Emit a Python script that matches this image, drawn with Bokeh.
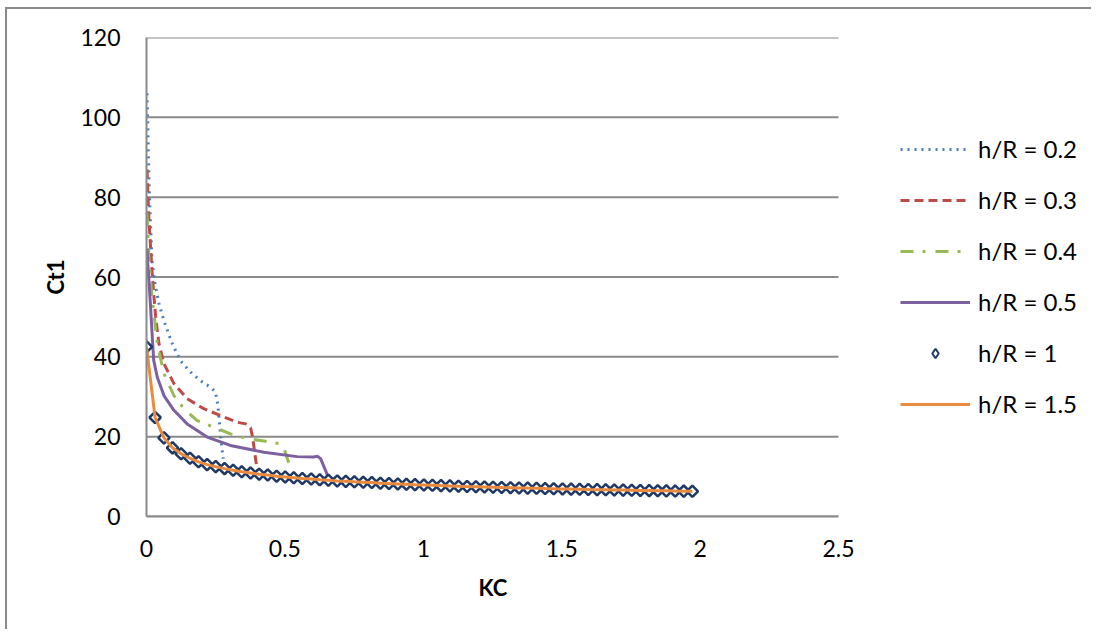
import math
from bokeh.plotting import figure
from bokeh.models import (Range1d, FixedTicker, NumeralTickFormatter, Legend, LegendItem, Title)
from bokeh.embed import file_html
from bokeh.resources import INLINE

# ---- data ----
h02_x = [0.002, 0.004, 0.007, 0.010, 0.014, 0.020, 0.027, 0.033, 0.045, 0.063, 0.093, 0.123,
         0.159, 0.195, 0.231, 0.249, 0.258, 0.264, 0.270, 0.277]
h02_y = [106, 100, 90, 82, 74, 64, 60, 57.5, 53.4, 49, 43.3, 39, 36.2, 34, 32.4, 31.2, 27.8, 23, 18.5, 14.5]

h03_x = [0.002, 0.005, 0.009, 0.014, 0.019, 0.024, 0.033, 0.045, 0.063, 0.099, 0.147, 0.207,
         0.267, 0.328, 0.358, 0.376, 0.383, 0.390, 0.398, 0.405]
h03_y = [87, 81, 74, 68.3, 62.5, 57.5, 50, 43.3, 38.3, 33.3, 29.5, 27, 25.3, 23.6, 23.2, 22.2, 20, 16.5, 12.5, 10.3]

h04_x = [0.002, 0.005, 0.009, 0.014, 0.020, 0.027, 0.039, 0.063, 0.099, 0.135, 0.183, 0.243,
         0.303, 0.364, 0.424, 0.484, 0.495, 0.505, 0.515]
h04_y = [76, 70, 65, 60, 55, 50.8, 43.3, 35.8, 30.3, 27, 24, 22.4, 20.7, 19.5, 18.9, 18.2, 17.5, 15.3, 13.2]

h05_x = [0.002, 0.005, 0.008, 0.014, 0.021, 0.026, 0.039, 0.063, 0.099, 0.147, 0.219, 0.303,
         0.424, 0.544, 0.604, 0.617, 0.629, 0.644, 0.659]
h05_y = [67, 63, 60, 53.3, 44.9, 39.1, 34.9, 30.3, 26.6, 23.2, 19.9, 17.8, 16.1, 15.0, 14.9, 15.1, 14.5, 12, 9.5]

h1_x = [0, 0.031, 0.063, 0.094, 0.125, 0.157, 0.188, 0.219, 0.25, 0.282, 0.313, 0.344, 0.376,
        0.407, 0.438, 0.47, 0.501, 0.532, 0.563, 0.595, 0.626, 0.657, 0.689, 0.72, 0.751, 0.783,
        0.814, 0.845, 0.876, 0.908, 0.939, 0.97, 1.002, 1.033, 1.064, 1.096, 1.127, 1.158, 1.19,
        1.221, 1.252, 1.283, 1.315, 1.346, 1.377, 1.409, 1.44, 1.471, 1.503, 1.534, 1.565, 1.596,
        1.628, 1.659, 1.69, 1.722, 1.753, 1.784, 1.816, 1.847, 1.878, 1.91, 1.941, 1.972]
h1_y = [42.5, 24.8, 19.7, 17.2, 15.7, 14.6, 13.7, 13.0, 12.5, 12.0, 11.6, 11.2, 10.9, 10.6, 10.4,
        10.1, 9.9, 9.7, 9.5, 9.4, 9.2, 9.1, 8.9, 8.8, 8.7, 8.6, 8.5, 8.35, 8.25, 8.16, 8.07, 7.98,
        7.9, 7.82, 7.74, 7.67, 7.59, 7.52, 7.46, 7.4, 7.34, 7.27, 7.22, 7.16, 7.11, 7.06, 7.0, 6.95,
        6.91, 6.86, 6.82, 6.77, 6.73, 6.69, 6.65, 6.61, 6.57, 6.53, 6.49, 6.45, 6.42, 6.38, 6.35, 6.32]

h15_x = list(h1_x)
h15_y = list(h1_y)

x_ticks = [0, 0.5, 1, 1.5, 2, 2.5]
y_ticks = [0, 20, 40, 60, 80, 100, 120]
labels = ["h/R = 0.2", "h/R = 0.3", "h/R = 0.4", "h/R = 0.5", "h/R = 1", "h/R = 1.5"]

FONT = "Lato"
GRAY = "#8a8a8a"

W, H = 1086, 622
ML, MT, MR, MB = 139, 28, 2, 115
AXIS_W_PX = 692          # pixel width of the 0..2.5 axis span
frame_w = W - ML - MR
x_max = x_ticks[-1]
x_end = x_max * frame_w / AXIS_W_PX

p = figure(width=W, height=H, output_backend="svg", toolbar_location=None,
           x_range=Range1d(0, x_end), y_range=Range1d(y_ticks[0], y_ticks[-1]),
           min_border_left=ML, min_border_top=MT, min_border_right=MR, min_border_bottom=MB)
p.styles = {"border-top": "2px solid #8a8a8a", "border-left": "2px solid #8a8a8a",
            "margin-left": "5px", "margin-top": "7px"}
p.outline_line_color = None
p.background_fill_color = "white"
p.border_fill_color = "white"

p.xgrid.visible = False
p.ygrid.visible = False
# horizontal gridlines spanning only the axis extent 0..2.5
p.segment(x0=[x_ticks[0]] * len(y_ticks), x1=[x_max] * len(y_ticks), y0=y_ticks, y1=y_ticks,
          line_color=GRAY, line_width=2)

p.xaxis.ticker = FixedTicker(ticks=x_ticks)
p.yaxis.ticker = FixedTicker(ticks=y_ticks)
p.xaxis.bounds = (x_ticks[0], x_max)
p.xaxis.formatter = NumeralTickFormatter(format="0.[0]")
for ax in (p.xaxis[0], p.yaxis[0]):
    ax.axis_line_color = GRAY
    ax.axis_line_width = 2
    ax.major_tick_line_color = None
    ax.minor_tick_line_color = None
    ax.major_label_text_font = FONT
    ax.major_label_text_font_size = "23px"
    ax.major_label_text_color = "black"
    ax.axis_label_text_font = FONT
    ax.axis_label_text_font_size = "22px"
    ax.axis_label_text_font_style = "bold"
    ax.axis_label_text_color = "black"
p.yaxis.axis_label = "Ct1"
p.xaxis.major_label_standoff = 17
p.yaxis.major_label_standoff = 20
p.yaxis.axis_label_standoff = 8

# x-axis title, centred under the 0..2.5 span
kc = Title(text="KC", align="left", text_font=FONT, text_font_size="22px",
           text_font_style="bold", text_color="black", standoff=24, offset=332)
p.add_layout(kc, "below")

r02 = p.line(h02_x, h02_y, line_color="#4a7ebb", line_width=3, line_dash="2 5")
r03 = p.line(h03_x, h03_y, line_color="#be4b48", line_width=3, line_dash="9 5")
r04 = p.line(h04_x, h04_y, line_color="#98b954", line_width=3, line_dash="13 9 3 10")
r05 = p.line(h05_x, h05_y, line_color="#7d60a0", line_width=3)
r1 = p.scatter(h1_x, h1_y, marker="square", angle=math.pi / 4, size=8, fill_color="white",
               line_color="#1f3864", line_width=2.5)
r1_key = p.scatter(h1_x, h1_y, marker="diamond", size=10, fill_color="white",
                   line_color="#1f3864", line_width=2, visible=False)
r15 = p.line(h15_x, h15_y, line_color="#ea8a3e", line_width=3)

legend = Legend(items=[LegendItem(label=l, renderers=[r]) for l, r in
                       zip(labels, [r02, r03, r04, r05, r1_key, r15])],
                location=(754, 98))
legend.border_line_color = None
legend.background_fill_alpha = 0
legend.padding = 0
legend.margin = 0
legend.glyph_width = 70
legend.glyph_height = 24
legend.label_height = 24
legend.spacing = 22
legend.label_standoff = 8
legend.label_text_font = FONT
legend.label_text_font_size = "24px"
legend.label_text_color = "black"
p.add_layout(legend, "center")

open("out.html", "w").write(file_html(p, INLINE))
